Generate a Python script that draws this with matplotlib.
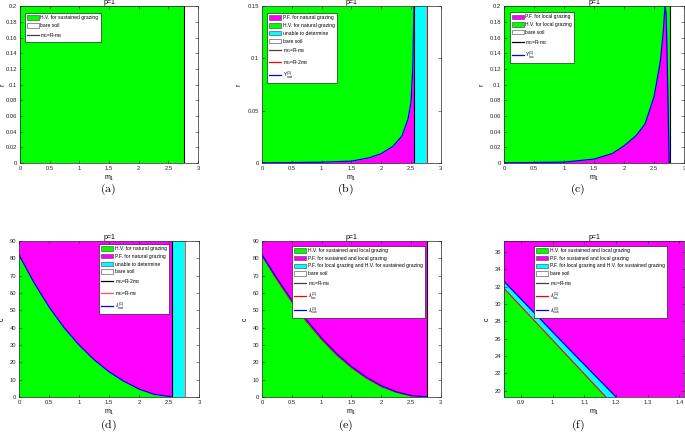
import matplotlib
matplotlib.use("Agg")
import matplotlib.pyplot as plt
from matplotlib.patches import Patch
from matplotlib.lines import Line2D
from matplotlib.ticker import FuncFormatter

plt.rcParams['font.family'] = ['Liberation Sans', 'DejaVu Sans']
plt.rcParams['mathtext.fontset'] = 'custom'
plt.rcParams['mathtext.rm'] = 'Liberation Sans'
plt.rcParams['mathtext.it'] = 'Liberation Sans:italic'

GREEN = "#00FF00"
MAGENTA = "#FF00FF"
CYAN = "#00FFFF"
BLUE = "#0000FF"
RED = "#FF0000"

# ---- data ----
# (a)
bound_a = 2.77
# (b) Upsilon_nat curve, r vs m1
m1_b = [0, 0.5, 1.0, 1.5, 1.8, 2.0, 2.2, 2.35, 2.45, 2.5, 2.53, 2.55]
r_b = [0.0002, 0.0004, 0.0008, 0.0018, 0.005, 0.009, 0.016, 0.026, 0.042, 0.058, 0.09, 0.15]
bound_b = [2.55, 2.77]
# (c) Upsilon_loc curve
m1_c = [0, 0.5, 1.0, 1.5, 1.8, 2.0, 2.2, 2.35, 2.5, 2.6, 2.65, 2.68, 2.70, 2.72, 2.74, 2.75]
r_c = [0.0003, 0.0006, 0.0012, 0.005, 0.012, 0.022, 0.035, 0.05, 0.085, 0.128, 0.165, 0.2, 0.19, 0.12, 0.04, 0]
bound_c = 2.77
# (d) lambda_nat curve, c vs m1
m1_d = [0, 0.25, 0.5, 0.75, 1.0, 1.25, 1.5, 1.75, 2.0, 2.25, 2.55]
c_d = [82, 66, 52, 40, 30, 21.5, 14.5, 9, 4.5, 1.5, 0]
bound_d = [2.55, 2.77]
# (e) lambda_sus and lambda_loc curves
m1_e = [0, 0.25, 0.5, 0.75, 1.0, 1.25, 1.5, 1.75, 2.0, 2.25, 2.5, 2.77]
sus_e = [82, 68.5, 55.8, 44.3, 34, 25, 17.6, 11.4, 6.5, 3, 0.8, 0]
loc_e = [81.5, 67.6, 54.8, 43.3, 33.1, 24.2, 16.9, 10.8, 6.0, 2.7, 0.6, 0]
bound_e = 2.77
# (f) zoom of (e)
xlim_f = [0.847, 1.415]
ylim_f = [19.3, 37.26]
m1_f_loc = [0.847, 0.95, 1.05, 1.168]
c_f_loc = [31.8, 27.8, 23.9, 19.3]
m1_f_sus = [0.847, 0.95, 1.05, 1.2]
c_f_sus = [32.6, 28.7, 24.9, 19.3]

fig = plt.figure(figsize=(6.85, 4.43), dpi=100)
fig.patch.set_facecolor("white")

top_row = 0.632
bot_row = 0.104
h = 0.354
ax_a = fig.add_axes([0.0292, top_row, 0.260, h])
ax_b = fig.add_axes([0.3825, top_row, 0.261, h])
ax_c = fig.add_axes([0.7358, top_row, 0.263, h])
ax_d = fig.add_axes([0.0277, bot_row, 0.263, 0.352])
ax_e = fig.add_axes([0.3825, bot_row, 0.261, 0.352])
ax_f = fig.add_axes([0.7358, bot_row, 0.263, 0.352])

fmt = FuncFormatter(lambda v, p: f'{v:g}')


def style(ax, ylabel, ylab_x):
    ax.tick_params(direction='in', length=2, width=0.4, labelsize=4.2,
                   top=True, right=True, pad=2, colors='#262626')
    for s in ax.spines.values():
        s.set_linewidth(0.5)
        s.set_color('#262626')
    ax.xaxis.set_major_formatter(fmt)
    ax.yaxis.set_major_formatter(fmt)
    ax.set_title("p=1", fontsize=5, pad=1.5)
    ax.set_xlabel("m$_1$", fontsize=5, labelpad=2)
    ax.set_ylabel(ylabel, fontsize=5)
    ax.yaxis.set_label_coords(ylab_x, 0.5)


def legend(ax, handles, labels, loc, anchor):
    lg = ax.legend(handles, labels, loc=loc, bbox_to_anchor=anchor, borderaxespad=0,
                   fontsize=3.6, handlelength=2.4, handleheight=1.0, labelspacing=0.55,
                   borderpad=0.4, handletextpad=0.3, fancybox=False, framealpha=1)
    lg.get_frame().set_edgecolor('black')
    lg.get_frame().set_linewidth(0.4)
    return lg


def patch(c):
    return Patch(facecolor=c, edgecolor='#404040', linewidth=0.4)


def line(c):
    return Line2D([], [], color=c, lw=0.9)


# (a)
ax_a.axvspan(0, bound_a, color=GREEN, lw=0)
ax_a.axvline(bound_a, color='k', lw=0.8)
ax_a.set_xlim(0, 3)
ax_a.set_ylim(0, 0.2)
ax_a.set_xticks([0, 0.5, 1, 1.5, 2, 2.5, 3])
ax_a.set_yticks([0, 0.02, 0.04, 0.06, 0.08, 0.1, 0.12, 0.14, 0.16, 0.18, 0.2])
style(ax_a, "r", -0.078)
legend(ax_a, [patch(GREEN), patch('white'), line('#404040')],
       ["H.V. for sustained grazing", "bare soil", "m$_1$=R-m$_0$"],
       'upper left', (0.028, 0.955))

# (b)
ax_b.fill_between(m1_b, r_b, 0.15, color=GREEN, lw=0)
ax_b.fill_between(m1_b, 0, r_b, color=MAGENTA, lw=0)
ax_b.axvspan(bound_b[0], bound_b[1], color=CYAN, lw=0)
ax_b.plot(m1_b, r_b, color=BLUE, lw=0.9)
ax_b.axvline(bound_b[0], color='k', lw=0.8)
ax_b.axvline(bound_b[1], color=RED, lw=0.8)
ax_b.set_xlim(0, 3)
ax_b.set_ylim(0, 0.15)
ax_b.set_xticks([0, 0.5, 1, 1.5, 2, 2.5, 3])
ax_b.set_yticks([0, 0.05, 0.1, 0.15])
style(ax_b, "r", -0.11)
legend(ax_b, [patch(MAGENTA), patch(GREEN), patch(CYAN), patch('white'),
              line('#404040'), line(RED), line(BLUE)],
       ["P.F. for natural grazing", "H.V. for natural grazing", "unable to determine",
        "bare soil", "m$_1$=R-m$_0$", "m$_1$=R-2m$_0$", r"$\Upsilon^{(1)}_{\mathrm{nat}}$"],
       'upper left', (0.028, 0.955))

# (c)
ax_c.axvspan(0, bound_c, color=GREEN, lw=0)
ax_c.fill_between(m1_c, 0, r_c, color=MAGENTA, lw=0)
ax_c.plot(m1_c, r_c, color=BLUE, lw=0.9)
ax_c.axvline(bound_c, color='k', lw=0.8)
ax_c.set_xlim(0, 3)
ax_c.set_ylim(0, 0.2)
ax_c.set_xticks([0, 0.5, 1, 1.5, 2, 2.5, 3])
ax_c.set_yticks([0, 0.02, 0.04, 0.06, 0.08, 0.1, 0.12, 0.14, 0.16, 0.18, 0.2])
style(ax_c, "r", -0.105)
legend(ax_c, [patch(MAGENTA), patch(GREEN), patch('white'), line('k'), line(BLUE)],
       ["P.F. for local grazing", "H.V. for local grazing", "bare soil",
        "m$_1$=R-m$_0$", r"$\Upsilon^{(1)}_{\mathrm{loc}}$"],
       'upper left', (0.033, 0.96))

# (d)
ax_d.fill_between(m1_d, c_d, 90, color=MAGENTA, lw=0)
ax_d.fill_between(m1_d, 0, c_d, color=GREEN, lw=0)
ax_d.axvspan(bound_d[0], bound_d[1], color=CYAN, lw=0)
ax_d.plot(m1_d, c_d, color=BLUE, lw=0.9)
ax_d.axvline(bound_d[0], color='k', lw=0.8)
ax_d.axvline(bound_d[1], color="#FF5050", lw=0.8)
ax_d.set_xlim(0, 3)
ax_d.set_ylim(0, 90)
ax_d.set_xticks([0, 0.5, 1, 1.5, 2, 2.5, 3])
ax_d.set_yticks(range(0, 91, 10))
style(ax_d, "c", -0.072)
legend(ax_d, [patch(GREEN), patch(MAGENTA), patch(CYAN), patch('white'),
              line('k'), line("#FF5050"), line(BLUE)],
       ["H.V. for natural grazing", "P.F. for natural grazing", "unable to determine",
        "bare soil", "m$_1$=R-2m$_0$", "m$_1$=R-m$_0$", r"$\lambda^{(1)}_{\mathrm{nat}}$"],
       'upper right', (0.83, 0.98))

# (e)
ax_e.fill_between(m1_e, sus_e, 90, color=MAGENTA, lw=0)
ax_e.fill_between(m1_e, loc_e, sus_e, color=CYAN, lw=0)
ax_e.fill_between(m1_e, 0, loc_e, color=GREEN, lw=0)
ax_e.plot(m1_e, loc_e, color=RED, lw=0.8)
ax_e.plot(m1_e, sus_e, color=BLUE, lw=0.9)
ax_e.axvline(bound_e, color='k', lw=0.8)
ax_e.set_xlim(0, 3)
ax_e.set_ylim(0, 90)
ax_e.set_xticks([0, 0.5, 1, 1.5, 2, 2.5, 3])
ax_e.set_yticks(range(0, 91, 10))
style(ax_e, "c", -0.073)
labels_ef = ["H.V. for sustained and local grazing", "P.F. for sustained and local grazing",
             "P.F. for local grazing and H.V. for sustained grazing", "bare soil",
             "m$_1$=R-m$_0$", r"$\lambda^{(1)}_{\mathrm{loc}}$", r"$\lambda^{(1)}_{\mathrm{sus}}$"]
handles_ef = [patch(GREEN), patch(MAGENTA), patch(CYAN), patch('white'),
              line('#404040'), line(RED), line(BLUE)]
legend(ax_e, handles_ef, labels_ef, 'upper left', (0.168, 0.968))

# (f)
ax_f.axvspan(xlim_f[0], xlim_f[1], color=MAGENTA, lw=0)
ax_f.fill_between(m1_f_sus, ylim_f[0], c_f_sus, color=CYAN, lw=0)
ax_f.fill_between(m1_f_loc, ylim_f[0], c_f_loc, color=GREEN, lw=0)
ax_f.plot(m1_f_loc, c_f_loc, color=RED, lw=0.8)
ax_f.plot(m1_f_sus, c_f_sus, color=BLUE, lw=0.9)
ax_f.set_xlim(xlim_f)
ax_f.set_ylim(ylim_f)
ax_f.set_xticks([0.9, 1, 1.1, 1.2, 1.3, 1.4])
ax_f.set_yticks(range(20, 37, 2))
style(ax_f, "c", -0.072)
legend(ax_f, handles_ef, labels_ef, 'upper left', (0.167, 0.968))

# subcaptions
captions = ["(a)", "(b)", "(c)", "(d)", "(e)", "(f)"]
cap_x = [0.158, 0.504, 0.844, 0.158, 0.504, 0.844]
cap_y = [0.573, 0.573, 0.573, 0.04, 0.04, 0.04]
for t, x, y in zip(captions, cap_x, cap_y):
    fig.text(x, y, r"$\mathrm{" + t + "}$", ha='center', va='center', fontsize=8.5,
             math_fontfamily='cm')

fig.savefig("out.png", dpi=100)
